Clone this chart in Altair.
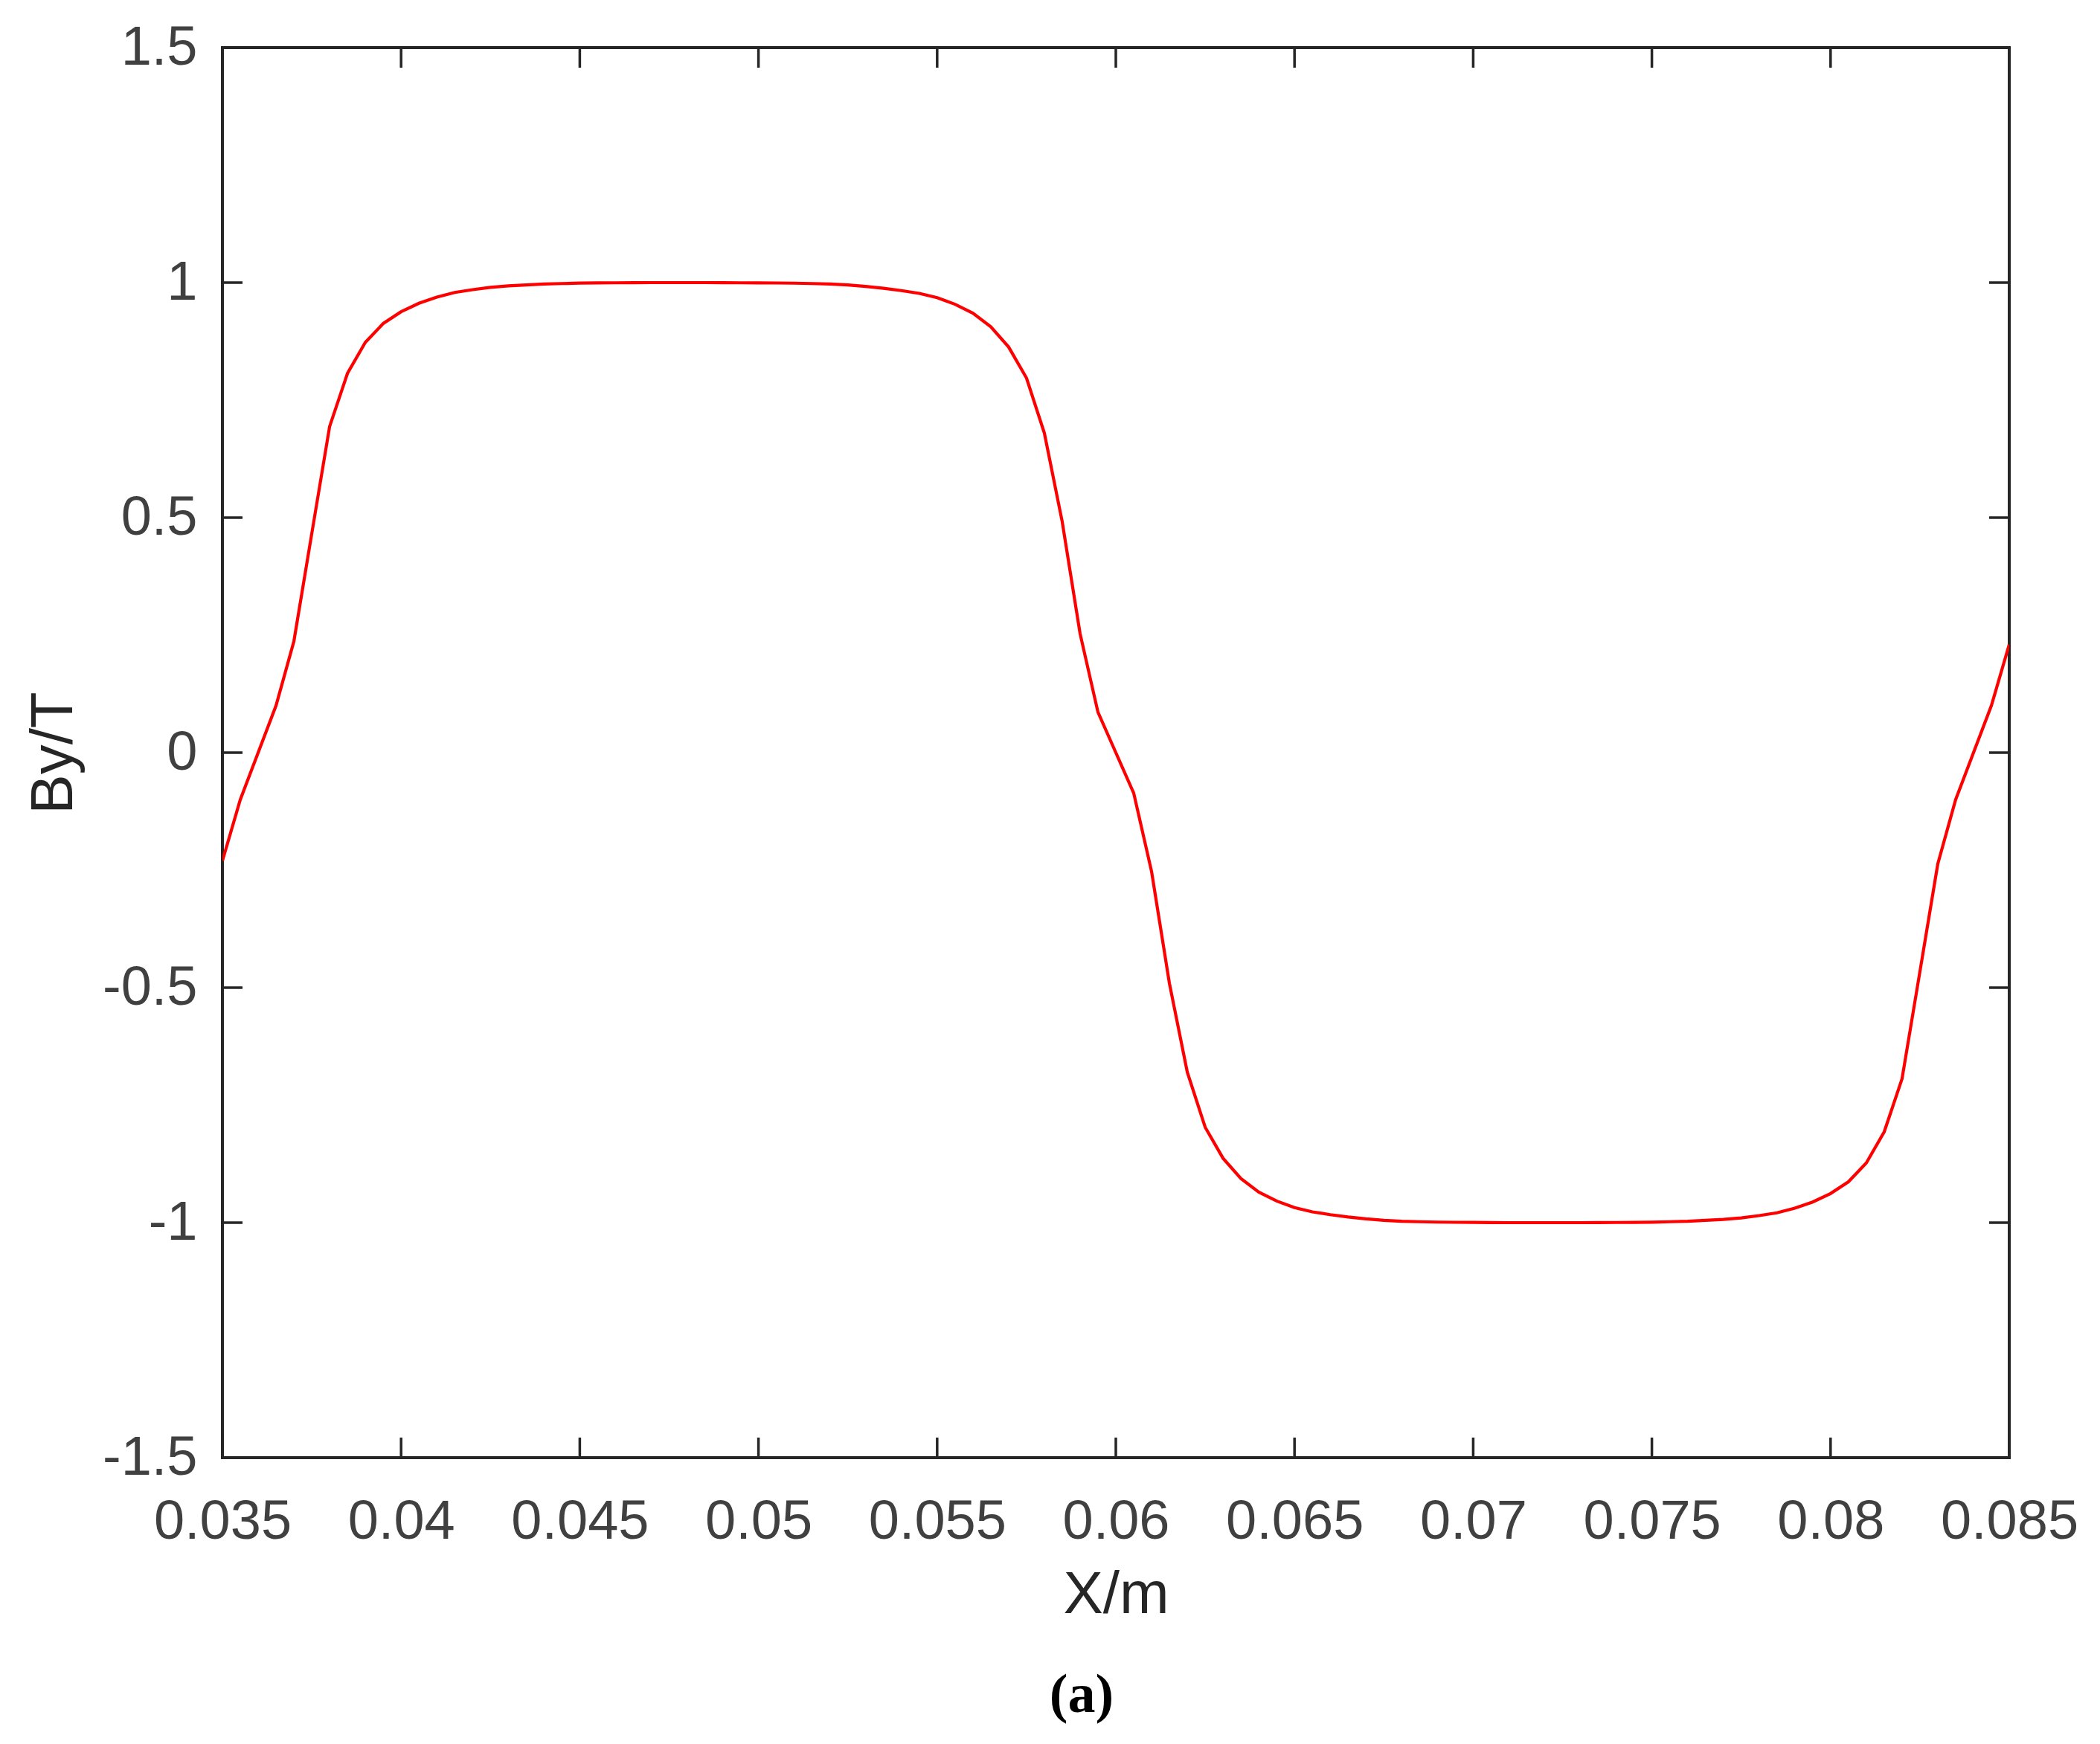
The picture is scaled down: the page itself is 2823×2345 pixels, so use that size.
import altair as alt
import pandas as pd

x_m = [
    0.035, 0.0355, 0.036, 0.0365, 0.037, 0.0375, 0.038, 0.0385, 0.039, 0.0395,
    0.040, 0.0405, 0.041, 0.0415, 0.042, 0.0425, 0.043, 0.0435, 0.044, 0.0445,
    0.045, 0.0455, 0.046, 0.0465, 0.047, 0.0475, 0.048, 0.0485, 0.049, 0.0495,
    0.050, 0.0505, 0.051, 0.0515, 0.052, 0.0525, 0.053, 0.0535, 0.054, 0.0545,
    0.055, 0.0555, 0.056, 0.0565, 0.057, 0.0575, 0.058, 0.0585, 0.059, 0.0595,
    0.060, 0.0605, 0.061, 0.0615, 0.062, 0.0625, 0.063, 0.0635, 0.064, 0.0645,
    0.065, 0.0655, 0.066, 0.0665, 0.067, 0.0675, 0.068, 0.0685, 0.069, 0.0695,
    0.070, 0.0705, 0.071, 0.0715, 0.072, 0.0725, 0.073, 0.0735, 0.074, 0.0745,
    0.075, 0.0755, 0.076, 0.0765, 0.077, 0.0775, 0.078, 0.0785, 0.079, 0.0795,
    0.080, 0.0805, 0.081, 0.0815, 0.082, 0.0825, 0.083, 0.0835, 0.084, 0.0845,
    0.085,
]
by_t = [
    -0.230, -0.100, 0.000, 0.100, 0.237, 0.466, 0.694, 0.807, 0.873, 0.913,
    0.938, 0.956, 0.969, 0.979, 0.985, 0.990, 0.993, 0.995, 0.997, 0.998,
    0.999, 0.9993, 0.9996, 0.9998, 1.000, 1.000, 1.000, 1.000, 0.9998, 0.9996,
    0.9993, 0.9992, 0.9988, 0.998, 0.997, 0.995, 0.992, 0.988, 0.983, 0.977,
    0.968, 0.954, 0.935, 0.906, 0.863, 0.797, 0.680, 0.491, 0.253, 0.086,
    0.000, -0.086, -0.253, -0.491, -0.680, -0.797, -0.863, -0.906, -0.935, -0.954,
    -0.968, -0.977, -0.983, -0.988, -0.992, -0.995, -0.997, -0.998, -0.9988, -0.9992,
    -0.9995, -0.9998, -1.000, -1.000, -1.000, -1.000, -1.000, -0.9998, -0.9996, -0.9993,
    -0.999, -0.998, -0.997, -0.995, -0.993, -0.990, -0.985, -0.979, -0.969, -0.956,
    -0.938, -0.913, -0.873, -0.807, -0.694, -0.466, -0.237, -0.100, 0.000, 0.100,
    0.230,
]

x_ticks = [0.035, 0.04, 0.045, 0.05, 0.055, 0.06, 0.065, 0.07, 0.075, 0.08, 0.085]
y_ticks = [-1.5, -1, -0.5, 0, 0.5, 1, 1.5]

W, H = 2402, 1896
TICK = 27
AXC = "#262626"
LABC = "#404040"
FONT = "Liberation Sans"

df = pd.DataFrame({"x": x_m, "y": by_t})
xt = pd.DataFrame({"x": x_ticks})
yt = pd.DataFrame({"y": y_ticks})

xscale = alt.Scale(domain=[0.035, 0.085], nice=False, zero=False)
yscale = alt.Scale(domain=[-1.5, 1.5], nice=False, zero=False)

xaxis = alt.Axis(
    values=x_ticks, title="X/m", ticks=False, domain=False, grid=False,
    labelExpr="'' + datum.value", labelFlush=False, labelPadding=50, labelLimit=0,
    labelFont=FONT, labelFontSize=74, labelColor=LABC,
    titleFont=FONT, titleFontSize=80, titleColor=AXC, titleFontWeight="normal",
    titlePadding=22, labelOverlap=False)
yaxis = alt.Axis(
    values=y_ticks, title="By/T", ticks=False, domain=False, grid=False,
    labelExpr="'' + datum.value", labelFlush=False, labelPadding=34, labelLimit=0,
    labelFont=FONT, labelFontSize=74, labelColor=LABC,
    titleFont=FONT, titleFontSize=80, titleColor=AXC, titleFontWeight="normal",
    titlePadding=24, labelOverlap=False)

X = alt.X("x:Q", scale=xscale, axis=xaxis)
Y = alt.Y("y:Q", scale=yscale, axis=yaxis)

line = alt.Chart(df).mark_line(color="#ff0000", strokeWidth=4.2, clip=True).encode(x=X, y=Y)

rule_style = dict(color=AXC, strokeWidth=3.5)

bottom_ticks = alt.Chart(xt).mark_rule(**rule_style).encode(
    x=X, y=alt.value(H), y2=alt.value(H - TICK))
top_ticks = alt.Chart(xt).mark_rule(**rule_style).encode(
    x=X, y=alt.value(0), y2=alt.value(TICK))
left_ticks = alt.Chart(yt).mark_rule(**rule_style).encode(
    y=Y, x=alt.value(0), x2=alt.value(TICK))
right_ticks = alt.Chart(yt).mark_rule(**rule_style).encode(
    y=Y, x=alt.value(W), x2=alt.value(W - TICK))

chart = alt.layer(line, bottom_ticks, top_ticks, left_ticks, right_ticks).properties(
    width=W, height=H,
    background="white",
    autosize=alt.AutoSizeParams(type="none"),
    padding={"left": 291, "top": 56, "right": 114, "bottom": 377},
    title=alt.TitleParams(
        text="(a)", orient="bottom", anchor="middle", frame="group",
        font="Liberation Serif", fontSize=74, fontWeight="bold", color="#000000",
        offset=60, dx=-46),
).configure_view(
    stroke=AXC, strokeWidth=4, fill="white"
)

chart.save("out.html", embed_options={"renderer": "svg", "actions": False})
